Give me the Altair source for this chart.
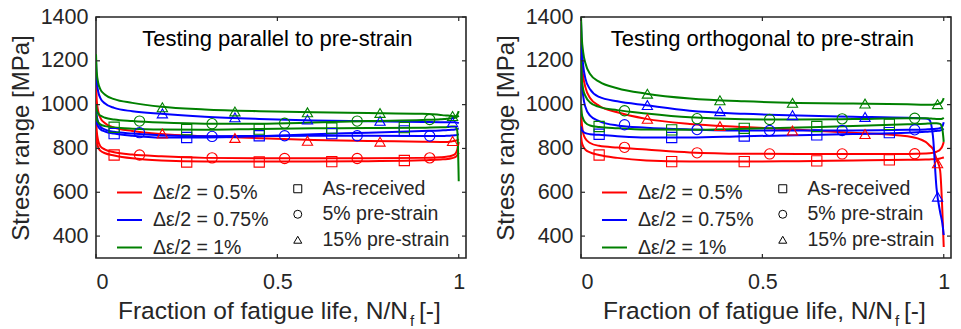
import altair as alt
import pandas as pd

# ---- sampling positions along the fatigue life (fraction N/Nf) ----
X_GRID = [0, 0.002, 0.006, 0.012, 0.025, 0.05, 0.1, 0.18, 0.3, 0.45,
          0.6, 0.75, 0.9, 0.95, 0.96, 0.97, 0.98, 0.99, 0.996, 1.0]

# marker positions for each pre-strain condition
MARK_X_AR = [0.05, 0.25, 0.45, 0.65, 0.85]
MARK_X_5 = [0.12, 0.32, 0.52, 0.72, 0.92]
MARK_X_15 = [0.183, 0.383, 0.583, 0.783, 0.983]

AMP_LABELS = ["Δε/2 = 0.5%", "Δε/2 = 0.75%", "Δε/2 = 1%"]
AMP_COLORS = ["#ff0000", "#0000ff", "#008000"]
PRE_LABELS = ["As-received", "5% pre-strain", "15% pre-strain"]
PRE_SHAPES = ["square", "circle", "triangle-up"]

Y_TICKS = [400, 600, 800, 1000, 1200, 1400]
X_TICKS = [0, 0.5, 1]

# ---- testing parallel to pre-strain: stress range [MPa] ----
PAR_R_AR = [870, 835, 805, 790, 778, 768, 755, 745, 740, 740, 740, 742, 746, 750, 751, 752, 755, 760, 770, 780]
PAR_R_5 = [950, 880, 835, 810, 795, 783, 772, 764, 757, 755, 755, 755, 757, 760, 761, 763, 767, 775, 795, 830]
PAR_R_15 = [1100, 1020, 970, 940, 915, 895, 880, 866, 856, 847, 839, 834, 831, 830, 830, 830, 832, 835, 838, 842]
PAR_B_AR = [960, 920, 900, 888, 877, 868, 858, 850, 850, 856, 865, 872, 880, 882, 883, 884, 885, 887, 889, 892]
PAR_B_5 = [1000, 950, 920, 900, 886, 876, 868, 860, 856, 857, 858, 858, 857, 857, 857, 858, 859, 860, 862, 865]
PAR_B_15 = [1200, 1110, 1060, 1030, 1005, 985, 970, 958, 945, 935, 928, 924, 921, 920, 920, 920, 920, 920, 918, 915]
PAR_G_AR = [960, 935, 920, 910, 902, 896, 890, 886, 885, 889, 892, 893, 895, 897, 897, 898, 900, 900, 880, 650]
PAR_G_5 = [1000, 975, 960, 950, 940, 932, 925, 918, 913, 913, 918, 925, 930, 933, 934, 936, 938, 940, 945, 950]
PAR_G_15 = [1230, 1150, 1100, 1070, 1045, 1025, 1008, 990, 978, 970, 965, 962, 958, 953, 951, 950, 948, 947, 955, 970]

PAR_M_R_AR = [770, 738, 738, 740, 745]
PAR_M_R_5 = [770, 757, 754, 754, 757]
PAR_M_R_15 = [868, 848, 835, 831, 834]
PAR_M_B_AR = [868, 850, 858, 868, 880]
PAR_M_B_5 = [872, 855, 858, 858, 857]
PAR_M_B_15 = [960, 942, 932, 926, 920]
PAR_M_G_AR = [897, 886, 888, 893, 895]
PAR_M_G_5 = [925, 913, 915, 925, 932]
PAR_M_G_15 = [988, 969, 965, 962, 948]

# ---- testing orthogonal to pre-strain: stress range [MPa] ----
ORT_R_AR = [860, 830, 810, 795, 782, 770, 757, 745, 740, 740, 742, 745, 748, 750, 750, 751, 752, 754, 757, 760]
ORT_R_5 = [1000, 920, 870, 845, 825, 812, 804, 795, 782, 776, 775, 775, 775, 777, 778, 780, 785, 795, 810, 830]
ORT_R_15 = [1300, 1200, 1130, 1080, 1030, 995, 965, 935, 912, 898, 885, 872, 856, 830, 815, 798, 752, 700, 520, 350]
ORT_B_AR = [900, 885, 877, 870, 865, 862, 856, 850, 850, 856, 860, 866, 872, 876, 877, 878, 880, 882, 886, 890]
ORT_B_5 = [1250, 1120, 1040, 990, 950, 925, 905, 895, 887, 882, 882, 882, 885, 887, 888, 889, 890, 893, 900, 920]
ORT_B_15 = [1380, 1270, 1180, 1120, 1070, 1035, 1015, 997, 972, 958, 950, 945, 940, 937, 932, 860, 620, 510, 460, 405]
ORT_G_AR = [1000, 960, 935, 918, 905, 898, 892, 886, 885, 890, 896, 902, 910, 913, 914, 915, 915, 912, 890, 830]
ORT_G_5 = [1200, 1120, 1070, 1040, 1010, 990, 975, 960, 942, 933, 932, 934, 938, 938, 937, 936, 935, 935, 936, 940]
ORT_G_15 = [1400, 1310, 1240, 1190, 1140, 1105, 1075, 1050, 1028, 1015, 1008, 1005, 1002, 1000, 1000, 1000, 1002, 1005, 1015, 1030]

ORT_M_R_AR = [770, 740, 740, 743, 748]
ORT_M_R_5 = [805, 780, 775, 775, 776]
ORT_M_R_15 = [935, 902, 882, 866, 732]
ORT_M_B_AR = [865, 850, 857, 862, 872]
ORT_M_B_5 = [908, 886, 882, 882, 885]
ORT_M_B_15 = [998, 970, 952, 944, 580]
ORT_M_G_AR = [900, 885, 892, 900, 910]
ORT_M_G_5 = [972, 936, 932, 935, 938]
ORT_M_G_15 = [1050, 1020, 1008, 1005, 1002]

FONT = "Liberation Sans"
TEXT = "#262626"
FRAME = "#262626"
W, H = 370, 241
TICK_LEN = 4


def curves_frame(series):
    rows = []
    for sid, (amp, pre, ys) in enumerate(series):
        for x, y in zip(X_GRID, ys):
            rows.append({"x": x, "y": y, "amp": amp, "pre": pre, "sid": sid})
    return pd.DataFrame(rows)


def markers_frame(series):
    xs_for = {PRE_LABELS[0]: MARK_X_AR, PRE_LABELS[1]: MARK_X_5, PRE_LABELS[2]: MARK_X_15}
    rows = []
    for amp, pre, ys in series:
        for x, y in zip(xs_for[pre], ys):
            rows.append({"x": x, "y": y, "amp": amp, "pre": pre})
    return pd.DataFrame(rows)


def panel(title, curves, markers):
    xs = alt.Scale(domain=[0, 1.02], nice=False, zero=False)
    ys = alt.Scale(domain=[300, 1400], nice=False, zero=False)
    cscale = alt.Scale(domain=AMP_LABELS, range=AMP_COLORS)

    xax = alt.Axis(values=X_TICKS, format="~g", title=None, labelPadding=13)
    yax = alt.Axis(values=Y_TICKS, format="d", title="Stress range [MPa]",
                   labelPadding=8, titlePadding=7)

    lines = alt.Chart(curves_frame(curves)).mark_line(
        strokeWidth=2, interpolate="monotone", clip=True
    ).encode(
        x=alt.X("x:Q", scale=xs, axis=xax),
        y=alt.Y("y:Q", scale=ys, axis=yax),
        color=alt.Color("amp:N", scale=cscale, legend=alt.Legend(
            title=None, orient="none", legendX=20, legendY=162,
            symbolType="stroke", symbolSize=625, symbolStrokeWidth=2,
            labelFont=FONT, labelFontSize=19.5, labelColor=TEXT,
            labelOffset=10, rowPadding=4.5, padding=0)),
        detail="sid:N",
        order=alt.Order("x:Q"),
    )

    points = alt.Chart(markers_frame(markers)).mark_point(
        filled=False, size=105, strokeWidth=1.1, opacity=1
    ).encode(
        x=alt.X("x:Q", scale=xs),
        y=alt.Y("y:Q", scale=ys),
        color=alt.Color("amp:N", scale=cscale),
        shape=alt.Shape("pre:N", scale=alt.Scale(domain=PRE_LABELS, range=PRE_SHAPES),
                        legend=alt.Legend(
                            title=None, orient="none", legendX=192, legendY=162,
                            symbolSize=64, symbolStrokeColor="black",
                            symbolFillColor="transparent", symbolStrokeWidth=1,
                            labelFont=FONT, labelFontSize=19.5, labelColor=TEXT,
                            labelOffset=15, rowPadding=4.5, padding=0)),
    )

    head = alt.Chart(pd.DataFrame({"x": [0.5], "y": [1266], "t": [title]})).mark_text(
        font=FONT, fontSize=22, color="black", align="center", baseline="alphabetic"
    ).encode(x=alt.X("x:Q", scale=xs), y=alt.Y("y:Q", scale=ys), text="t:N")

    # inside tick marks on all four sides
    ytk = pd.DataFrame({"y": Y_TICKS})
    xtk = pd.DataFrame({"x": X_TICKS})
    tick_l = alt.Chart(ytk).mark_rule(color=FRAME, strokeWidth=1.2).encode(
        y=alt.Y("y:Q", scale=ys), x=alt.value(0), x2=alt.value(TICK_LEN))
    tick_r = alt.Chart(ytk).mark_rule(color=FRAME, strokeWidth=1.2).encode(
        y=alt.Y("y:Q", scale=ys), x=alt.value(W - TICK_LEN), x2=alt.value(W))
    tick_b = alt.Chart(xtk).mark_rule(color=FRAME, strokeWidth=1.2).encode(
        x=alt.X("x:Q", scale=xs), y=alt.value(H), y2=alt.value(H - TICK_LEN))
    tick_t = alt.Chart(xtk).mark_rule(color=FRAME, strokeWidth=1.2).encode(
        x=alt.X("x:Q", scale=xs), y=alt.value(0), y2=alt.value(TICK_LEN))

    # x-axis title with subscript f
    xn = 312
    t1 = alt.Chart(pd.DataFrame({"t": ["Fraction of fatigue life, N/N"]})).mark_text(
        font=FONT, fontSize=24.5, color=TEXT, align="right", baseline="alphabetic"
    ).encode(x=alt.value(xn), y=alt.value(H + 61), text="t:N")
    t2 = alt.Chart(pd.DataFrame({"t": ["f"]})).mark_text(
        font=FONT, fontSize=15, color=TEXT, align="left", baseline="alphabetic"
    ).encode(x=alt.value(xn + 2), y=alt.value(H + 68), text="t:N")
    t3 = alt.Chart(pd.DataFrame({"t": ["[-]"]})).mark_text(
        font=FONT, fontSize=24.5, color=TEXT, align="left", baseline="alphabetic"
    ).encode(x=alt.value(xn + 11), y=alt.value(H + 61), text="t:N")

    return alt.layer(lines, points, head, tick_l, tick_r, tick_b, tick_t, t1, t2, t3).properties(
        width=W, height=H)


def group(prefix):
    g = globals()
    names = [("R", AMP_LABELS[0]), ("B", AMP_LABELS[1]), ("G", AMP_LABELS[2])]
    pres = [("AR", PRE_LABELS[0]), ("5", PRE_LABELS[1]), ("15", PRE_LABELS[2])]
    curves, marks = [], []
    for c, amp in names:
        for p, pre in pres:
            curves.append((amp, pre, g[f"{prefix}_{c}_{p}"]))
            marks.append((amp, pre, g[f"{prefix}_M_{c}_{p}"]))
    return curves, marks


par_c, par_m = group("PAR")
ort_c, ort_m = group("ORT")

left = panel("Testing parallel to pre-strain", par_c, par_m)
right = panel("Testing orthogonal to pre-strain", ort_c, ort_m)

chart = alt.hconcat(left, right, spacing=25).resolve_scale(
    color="independent", shape="independent", x="independent", y="independent"
).resolve_legend(color="independent", shape="independent").configure_view(
    stroke=FRAME, strokeWidth=1.6
).configure_axis(
    labelFont=FONT, labelFontSize=21.5, labelColor=TEXT,
    titleFont=FONT, titleFontSize=24, titleColor=TEXT, titleFontWeight="normal",
    domain=False, ticks=False, grid=False
).properties(
    padding={"left": 8, "top": 5, "right": 0, "bottom": 0},
    background="white"
)

chart.save("out.html", embed_options={"renderer": "svg", "actions": False})
